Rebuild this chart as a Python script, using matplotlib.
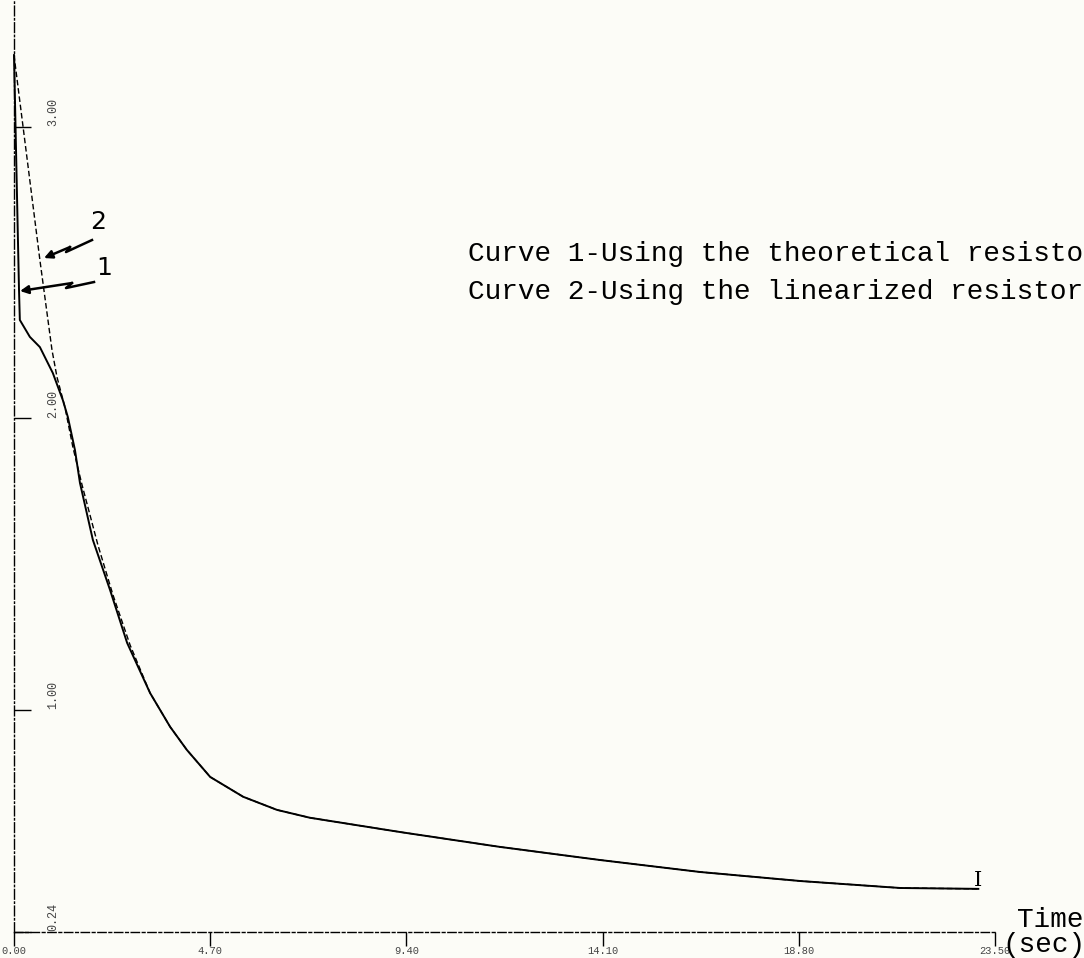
import numpy as np
import matplotlib
matplotlib.use("Agg")
import matplotlib.pyplot as plt

# time (sec) and response (arbitrary plot units)
t_curve1 = [0.00, 0.12, 0.14, 0.38, 0.62, 0.93, 1.17, 1.29, 1.46, 1.58, 1.89, 2.30,
            2.71, 3.26, 3.74, 4.14, 4.70, 5.49, 6.30, 7.09, 9.25, 11.64, 14.04,
            16.43, 18.83, 21.23, 23.10]
y_curve1 = [3.247, 2.441, 2.338, 2.280, 2.245, 2.156, 2.063, 2.005, 1.892, 1.779, 1.583, 1.412,
            1.230, 1.058, 0.942, 0.863, 0.770, 0.702, 0.657, 0.630, 0.581, 0.530, 0.485,
            0.444, 0.413, 0.389, 0.386]

t_curve2 = [0.00, 0.62, 0.91, 1.03, 1.22, 1.41, 1.63, 1.82, 2.01, 2.37, 2.78, 3.26]
y_curve2 = [3.247, 2.544, 2.235, 2.142, 2.039, 1.902, 1.772, 1.669, 1.566, 1.395, 1.223, 1.058]

x_ticks = [0.0, 4.7, 9.4, 14.1, 18.8, 23.5]
x_ticklabels = ["0.00", "4.70", "9.40", "14.10", "18.80", "23.50"]
y_ticks = [0.238, 1.0, 2.0, 3.0]
y_ticklabels = ["0.24", "1.00", "2.00", "3.00"]

legend_lines = ["Curve 1-Using the theoretical resistor",
                "Curve 2-Using the linearized resistor"]

W, H = 1084, 958
fig = plt.figure(figsize=(W / 100, H / 100), dpi=100)
fig.patch.set_facecolor("#fcfcf7")

# axes box in reference pixel coords: left 14, right 995, top 0, bottom 932
ax = fig.add_axes([14 / W, (H - 932) / H, (995 - 14) / W, 932 / H])
ax.set_facecolor("none")
ax.set_xlim(0, 23.5)
ax.set_ylim(0.238, 3.436)

# curve 2 keeps following curve 1 after they meet
t2 = t_curve2 + [t for t in t_curve1 if t > t_curve2[-1]]
y2 = y_curve2 + [y for t, y in zip(t_curve1, y_curve1) if t > t_curve2[-1]]
ax.plot(t2, y2, color="black", lw=1.0, ls=(0, (4, 2)), clip_on=False)
ax.plot(t_curve1, y_curve1, color="black", lw=1.4, clip_on=False)

# end mark of the curves
ax.text(t_curve1[-1], y_curve1[-1] - 0.005, "I", family="DejaVu Serif", fontsize=15,
        ha="center", va="bottom")

for s in ["top", "right"]:
    ax.spines[s].set_visible(False)
ax.spines["left"].set_linestyle((0, (7, 2, 1, 2)))
ax.spines["bottom"].set_linestyle((0, (6, 2, 2, 2)))
ax.spines["left"].set_linewidth(1.0)
ax.spines["bottom"].set_linewidth(1.0)

ax.set_xticks(x_ticks)
ax.set_xticklabels(x_ticklabels, family="Liberation Mono", fontsize=7.5, color="#444444")
ax.tick_params(axis="x", direction="out", length=10, width=1.0, pad=0.3)

ax.set_yticks(y_ticks)
ax.set_yticklabels([])
ax.tick_params(axis="y", direction="in", length=12, width=1.0)
for yv, lab in zip(y_ticks, y_ticklabels):
    ax.text(0.95, yv + 0.05, lab, rotation=90, family="Liberation Mono", fontsize=8.5,
            color="#444444", ha="center", va="center")

# axis name at the end of the time axis
fig.text(1017 / W, 1 - 920 / H, "Time", family="Liberation Mono", fontsize=20,
         ha="left", va="center")
fig.text(1002 / W, 1 - 945 / H, "(sec)", family="Liberation Mono", fontsize=20,
         ha="left", va="center")

# curve descriptions (the scan cuts the right end off)
fig.text(468 / W, 1 - 254 / H, legend_lines[0], family="Liberation Mono", fontsize=20,
         ha="left", va="center")
fig.text(468 / W, 1 - 292 / H, legend_lines[1], family="Liberation Mono", fontsize=20,
         ha="left", va="center")

# curve numbers with lightning-style pointers
def to_data(px, py):
    return (px - 14) / 41.74, 1 + (710 - py) / 291.5

ax.text(*to_data(98, 222), "2", fontsize=18, ha="center", va="center")
ax.text(*to_data(104, 268), "1", fontsize=18, ha="center", va="center")

bolt2 = [to_data(*p) for p in [(92, 240), (66, 252), (70, 247), (44, 258)]]
bolt1 = [to_data(*p) for p in [(94, 282), (66, 288), (72, 283), (20, 291)]]
for bolt in (bolt2, bolt1):
    xs, ys = zip(*bolt)
    ax.plot(xs[:-1], ys[:-1], color="black", lw=1.8)
    ax.annotate("", xy=bolt[-1], xytext=bolt[-2],
                arrowprops=dict(arrowstyle="-|>", color="black", lw=1.8,
                                mutation_scale=12, shrinkA=0, shrinkB=0))

fig.savefig("out.png", dpi=100, facecolor=fig.get_facecolor())
